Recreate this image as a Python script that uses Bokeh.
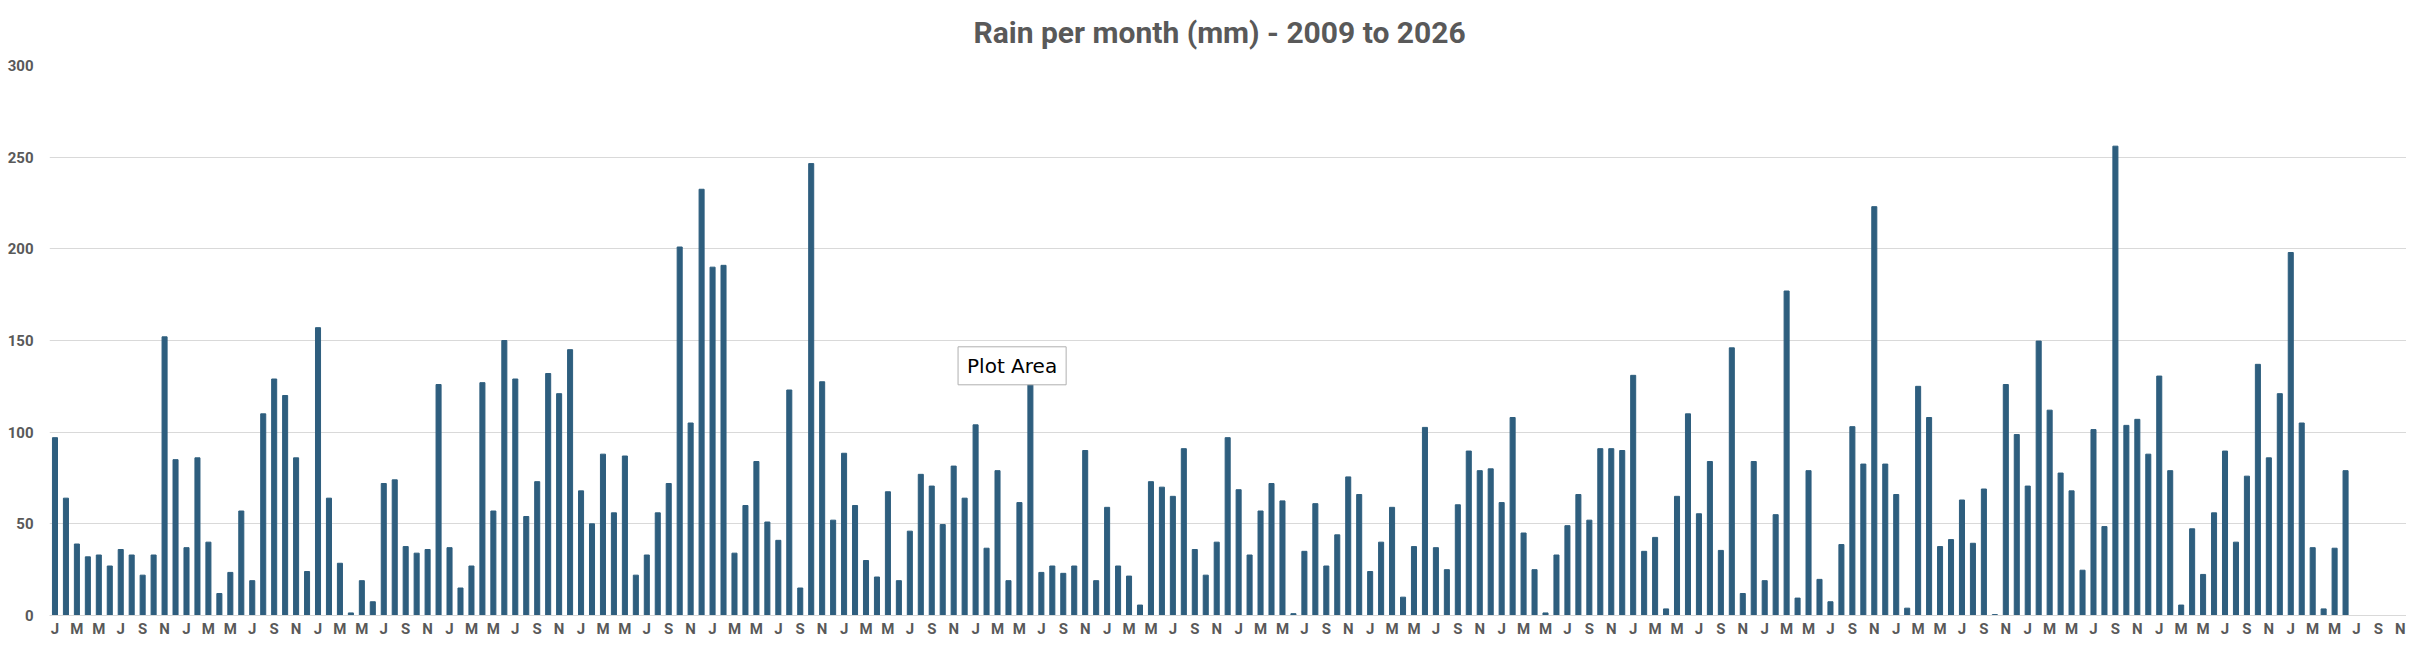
from bokeh.plotting import figure
from bokeh.models import ColumnDataSource, FixedTicker, Range1d, Label
from bokeh.embed import file_html
from bokeh.resources import INLINE

# ---- data (mm of rain per month) ----
month_letters = ["J", "F", "M", "A", "M", "J", "J", "A", "S", "O", "N", "D"]
years = list(range(2009, 2027))

rain_2009 = [97, 64, 39, 32, 33, 27, 36, 33, 22, 33, 152, 85]
rain_2010 = [37, 86, 40, 12, 23.5, 57, 19, 110, 129, 120, 86, 24]
rain_2011 = [157, 64, 28.5, 1.4, 19, 7.5, 72, 74, 37.6, 34, 36, 126]
rain_2012 = [37, 15, 27, 127, 57, 150, 129, 54, 73, 132, 121, 145]
rain_2013 = [68, 50, 88, 56, 87, 22, 33, 56, 72, 201, 105, 232.5]
rain_2014 = [190, 191, 34, 60, 84, 51, 41, 123, 15, 246.5, 127.5, 52]
rain_2015 = [88.5, 60, 30, 21, 67.5, 19, 46, 77, 70.6, 49.6, 81.5, 64]
rain_2016 = [104, 36.7, 79, 19, 61.6, 135, 23.5, 27, 23, 27, 90, 19]
rain_2017 = [59, 27, 21.5, 5.7, 73, 70, 65, 91, 36, 22, 40, 97]
rain_2018 = [68.6, 33, 57, 72, 62.5, 1, 35, 61, 27, 44, 75.6, 66]
rain_2019 = [24, 40, 59, 10, 37.6, 102.6, 37, 25, 60.4, 89.7, 79, 80]
rain_2020 = [61.6, 108, 45, 25, 1.4, 33, 49, 66, 52, 91, 91, 90]
rain_2021 = [131, 35, 42.6, 3.6, 65, 110, 55.5, 84, 35.5, 146, 12, 84]
rain_2022 = [19, 55, 177, 9.5, 79, 19.7, 7.5, 38.7, 103, 82.6, 223, 82.6]
rain_2023 = [66, 4, 125, 108, 37.6, 41.4, 63, 39.4, 69, 0.5, 126, 98.7]
rain_2024 = [70.6, 149.7, 112, 77.7, 68, 24.7, 101.4, 48.5, 256, 103.7, 107, 88]
rain_2025 = [130.6, 79, 5.7, 47.3, 22.4, 56, 89.7, 40, 76, 137, 86, 121]
rain_2026 = [198, 105, 37, 3.6, 36.7, 79]

y_ticks = [0, 50, 100, 150, 200, 250, 300]
title_text = "Rain per month (mm) - 2009 to 2026"
tooltip_text = "Plot Area"

# ---- build ----
rain = (rain_2009 + rain_2010 + rain_2011 + rain_2012 + rain_2013 + rain_2014 +
        rain_2015 + rain_2016 + rain_2017 + rain_2018 + rain_2019 + rain_2020 +
        rain_2021 + rain_2022 + rain_2023 + rain_2024 + rain_2025 + rain_2026)
n_months = 12 * len(years)
src = ColumnDataSource(dict(x=list(range(len(rain))), rain=rain))

TEXT = "#595959"
GRID = "#d9d9d9"
BAR = "#2E5E7E"
FONT = "Roboto"

p = figure(width=2406, height=640, output_backend="svg", toolbar_location=None,
           x_range=Range1d(-0.5, n_months - 1.44), y_range=Range1d(0, 300),
           min_border_left=49, min_border_right=0, min_border_top=65,
           min_border_bottom=24, title=title_text)
p.outline_line_color = None
p.background_fill_color = "white"
p.border_fill_color = "white"

p.title.align = "left"
p.title.offset = 924
p.title.vertical_align = "top"
p.title.standoff = 28
p.title.text_font = FONT
p.title.text_font_size = "30px"
p.title.text_font_style = "bold"
p.title.text_color = TEXT

p.vbar(x="x", top="rain", width=0.46, source=src, color=BAR)

tick_pos = list(range(0, n_months, 2))
p.xaxis.ticker = FixedTicker(ticks=tick_pos)
p.xaxis.major_label_overrides = {i: month_letters[i % 12] for i in tick_pos}
p.xaxis.axis_line_color = GRID
p.xaxis.major_tick_line_color = None
p.xaxis.minor_tick_line_color = None
p.xaxis.major_tick_out = 0
p.xaxis.major_tick_in = 0
p.xaxis.major_label_standoff = 4
p.xaxis.major_label_text_font = FONT
p.xaxis.major_label_text_font_style = "bold"
p.xaxis.major_label_text_font_size = "15px"
p.xaxis.major_label_text_color = TEXT

p.yaxis.ticker = FixedTicker(ticks=y_ticks)
p.yaxis.axis_line_color = None
p.yaxis.major_tick_line_color = None
p.yaxis.minor_tick_line_color = None
p.yaxis.major_tick_out = 0
p.yaxis.major_tick_in = 0
p.yaxis.major_label_standoff = 16
p.yaxis.major_label_text_font = FONT
p.yaxis.major_label_text_font_style = "bold"
p.yaxis.major_label_text_font_size = "15px"
p.yaxis.major_label_text_color = TEXT

p.xgrid.grid_line_color = None
p.ygrid.grid_line_color = GRID
p.ygrid.ticker = FixedTicker(ticks=y_ticks)

tip = Label(x=82.4, y=136.2, text=tooltip_text, text_align="left",
            text_baseline="middle", text_font="DejaVu Sans",
            text_font_size="20px", text_color="black",
            background_fill_color="white", border_line_color="#b0b0b0",
            border_line_width=1, padding=dict(x=9, y=7))
p.add_layout(tip)

open("out.html", "w").write(file_html(p, INLINE))
